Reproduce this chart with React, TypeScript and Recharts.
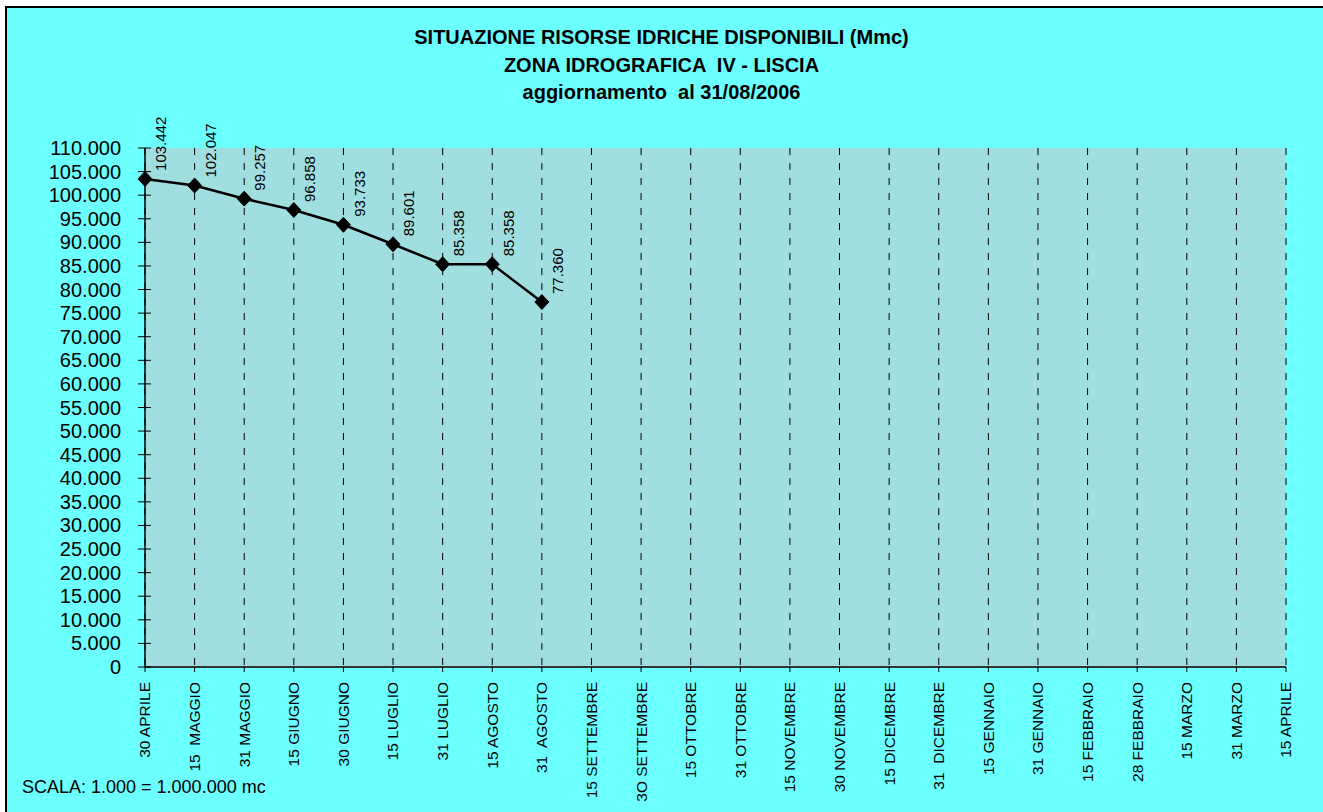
import { LineChart, Line, XAxis, YAxis, CartesianGrid, LabelList } from "recharts";

const periods = [
  '30 APRILE', '15  MAGGIO', '31 MAGGIO', '15 GIUGNO', '30 GIUGNO', '15 LUGLIO',
  '31 LUGLIO', '15 AGOSTO', '31  AGOSTO', '15 SETTEMBRE', '3O SETTEMBRE', '15 OTTOBRE',
  '31 OTTOBRE', '15 NOVEMBRE', '30 NOVEMBRE', '15 DICEMBRE', '31  DICEMBRE', '15 GENNAIO',
  '31 GENNAIO', '15 FEBBRAIO', '28 FEBBRAIO', '15 MARZO', '31 MARZO', '15 APRILE',
];

// migliaia di mc (1.000 = 1.000.000 mc)
const volumes: (number | null)[] = [
  103442, 102047, 99257, 96858, 93733, 89601, 85358, 85358, 77360,
  null, null, null, null, null, null, null, null, null, null, null, null, null, null, null,
];

const yTicks = [
  0, 5000, 10000, 15000, 20000, 25000, 30000, 35000, 40000, 45000, 50000, 55000,
  60000, 65000, 70000, 75000, 80000, 85000, 90000, 95000, 100000, 105000, 110000,
];

const titleLines = [
  'SITUAZIONE RISORSE IDRICHE DISPONIBILI (Mmc)',
  'ZONA IDROGRAFICA  IV - LISCIA',
  'aggiornamento  al 31/08/2006',
];

const data = periods.map((p, i) => ({ name: p, value: volumes[i] }));

const FONT = '"Liberation Sans", Arial, sans-serif';
const fmt = (v: number) => String(Math.round(v)).replace(/\B(?=(\d{3})+(?!\d))/g, '.');

function XTick(props: any) {
  const { x, y, payload } = props;
  return (
    <text
      transform={`translate(${x},${y}) rotate(-90)`}
      dy="0.35em"
      textAnchor="end"
      fontSize={15.5}
      fontFamily={FONT}
      fill="#000"
      style={{ whiteSpace: 'pre' }}
    >
      {payload.value}
    </text>
  );
}

function YTick(props: any) {
  const { x, y, payload } = props;
  return (
    <g>
      <line x1={x - 7} x2={x + 6} y1={y} y2={y} stroke="#000" strokeWidth={1} />
      <text x={x - 24} y={y} dy="0.35em" textAnchor="end" fontSize={20} fontFamily={FONT} fill="#000">
        {fmt(payload.value)}
      </text>
    </g>
  );
}

function Diamond(props: any) {
  const { cx, cy } = props;
  if (cx == null || cy == null) return <g />;
  return (
    <polygon
      points={`${cx},${cy - 7.5} ${cx + 7},${cy} ${cx},${cy + 7.5} ${cx - 7},${cy}`}
      fill="#000"
      stroke="#000"
    />
  );
}

function ValueLabel(props: any) {
  const { x, y, value } = props;
  if (value == null) return null;
  return (
    <text
      transform={`translate(${x + 16},${y - 8}) rotate(-90)`}
      dy="0.35em"
      textAnchor="start"
      fontSize={15}
      fontFamily={FONT}
      fill="#000"
    >
      {fmt(value)}
    </text>
  );
}

export default function App() {
  return (
    <div style={{ position: 'absolute', left: 0, top: 0, width: 1323, height: 812, background: '#fff', overflow: 'hidden', fontFamily: FONT }}>
      <div style={{ position: 'absolute', left: 5, top: 6, right: -10, bottom: -10, borderLeft: '2px solid #000', borderTop: '2px solid #000', background: '#6BFFFF' }} />
      <div style={{ position: 'absolute', left: 0, top: 24, width: 1323, textAlign: 'center', fontWeight: 'bold', fontSize: 20, lineHeight: '27.5px', whiteSpace: 'pre' }}>
        {titleLines.map((t) => (
          <div key={t}>{t}</div>
        ))}
      </div>
      <div style={{ position: 'absolute', left: 22, top: 776, fontSize: 18, lineHeight: '22px' }}>
        SCALA: 1.000 = 1.000.000 mc
      </div>
      <div style={{ position: 'absolute', left: 0, top: 0 }}>
        <LineChart width={1323} height={812} data={data} margin={{ top: 148, right: 37, bottom: 45, left: 0 }}>
          <CartesianGrid horizontal={false} vertical stroke="#000" strokeDasharray="7 8" fill="#A0DEE0" fillOpacity={1} />
          <XAxis
            dataKey="name"
            scale="point"
            padding={{ left: 0, right: 0 }}
            interval={0}
            height={100}
            tickSize={5}
            tickMargin={10}
            axisLine={{ stroke: '#333', strokeWidth: 2 }}
            tickLine={{ stroke: '#000' }}
            tick={<XTick />}
          />
          <YAxis
            type="number"
            domain={[0, 110000]}
            ticks={yTicks}
            interval={0}
            width={145}
            tickSize={0}
            tickMargin={0}
            tickLine={false}
            axisLine={{ stroke: '#000', strokeWidth: 1.5 }}
            tick={<YTick />}
          />
          <Line
            type="linear"
            dataKey="value"
            stroke="#000"
            strokeWidth={2.5}
            dot={<Diamond />}
            activeDot={false}
            isAnimationActive={false}
          >
            <LabelList dataKey="value" content={<ValueLabel />} />
          </Line>
        </LineChart>
      </div>
    </div>
  );
}
